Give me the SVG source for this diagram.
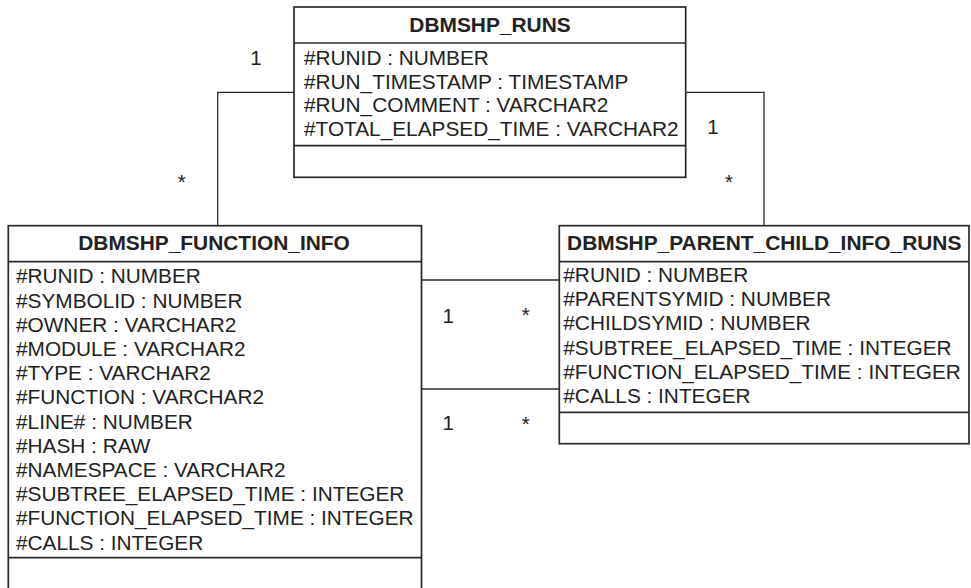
<svg xmlns="http://www.w3.org/2000/svg" width="971" height="588" viewBox="0 0 971 588">
<style>
.box{fill:#fff;stroke:#2a2a2a;stroke-width:1.7}
.div{stroke:#2a2a2a;stroke-width:1.7}
.conn{fill:none;stroke:#2a2a2a;stroke-width:1.3}
text{font-family:"Liberation Sans",Arial,Helvetica,sans-serif;fill:#222;font-size:20.8px}
.title{font-weight:bold;text-anchor:middle;font-size:20.9px}
.lbl{text-anchor:middle;font-size:20.5px}
</style>
<rect width="971" height="588" fill="#fff"/>
<g id="connectors">
<polyline class="conn" points="294,92.3 217.7,92.3 217.7,225.7"/>
<polyline class="conn" points="685.7,92.3 764,92.3 764,225.7"/>
<line class="conn" x1="421.5" y1="280" x2="559.3" y2="280"/>
<line class="conn" x1="421.5" y1="389" x2="559.3" y2="389"/>
<text class="lbl" x="256" y="64.5">1</text>
<text class="lbl" x="181.7" y="189">*</text>
<text class="lbl" x="713" y="134">1</text>
<text class="lbl" x="729" y="189">*</text>
<text class="lbl" x="448.3" y="322.5">1</text>
<text class="lbl" x="525.7" y="322">*</text>
<text class="lbl" x="448.3" y="430">1</text>
<text class="lbl" x="525.7" y="431">*</text>
</g>
<g id="dbmshp_runs">
<rect class="box" x="294" y="7" width="391.7" height="170.3"/>
<line class="div" x1="294" y1="43" x2="685.7" y2="43"/>
<line class="div" x1="294" y1="145.7" x2="685.7" y2="145.7"/>
<text class="title" x="490" y="32">DBMSHP_RUNS</text>
<text x="304" y="65">#RUNID : NUMBER</text>
<text x="304" y="88.7">#RUN_TIMESTAMP : TIMESTAMP</text>
<text x="304" y="112.4">#RUN_COMMENT : VARCHAR2</text>
<text x="304" y="136.1">#TOTAL_ELAPSED_TIME : VARCHAR2</text>
</g>
<g id="dbmshp_function_info">
<rect class="box" x="8.3" y="225.7" width="413.2" height="370"/>
<line class="div" x1="8.3" y1="261.7" x2="421.5" y2="261.7"/>
<line class="div" x1="8.3" y1="557.7" x2="421.5" y2="557.7"/>
<text class="title" x="214" y="250">DBMSHP_FUNCTION_INFO</text>
<text x="16" y="283.3">#RUNID : NUMBER</text>
<text x="16" y="307.5">#SYMBOLID : NUMBER</text>
<text x="16" y="331.7">#OWNER : VARCHAR2</text>
<text x="16" y="355.9">#MODULE : VARCHAR2</text>
<text x="16" y="380.1">#TYPE : VARCHAR2</text>
<text x="16" y="404.3">#FUNCTION : VARCHAR2</text>
<text x="16" y="428.5">#LINE# : NUMBER</text>
<text x="16" y="452.7">#HASH : RAW</text>
<text x="16" y="476.9">#NAMESPACE : VARCHAR2</text>
<text x="16" y="501.1">#SUBTREE_ELAPSED_TIME : INTEGER</text>
<text x="16" y="525.3">#FUNCTION_ELAPSED_TIME : INTEGER</text>
<text x="16" y="549.5">#CALLS : INTEGER</text>
</g>
<g id="dbmshp_parent_child_info_runs">
<rect class="box" x="559.3" y="225.7" width="409.7" height="218"/>
<line class="div" x1="559.3" y1="261.7" x2="969" y2="261.7"/>
<line class="div" x1="559.3" y1="412.3" x2="969" y2="412.3"/>
<text class="title" x="764.2" y="250">DBMSHP_PARENT_CHILD_INFO_RUNS</text>
<text x="563.3" y="281.7">#RUNID : NUMBER</text>
<text x="563.3" y="306">#PARENTSYMID : NUMBER</text>
<text x="563.3" y="330.3">#CHILDSYMID : NUMBER</text>
<text x="563.3" y="354.6">#SUBTREE_ELAPSED_TIME : INTEGER</text>
<text x="563.3" y="378.9">#FUNCTION_ELAPSED_TIME : INTEGER</text>
<text x="563.3" y="403.2">#CALLS : INTEGER</text>
</g>
</svg>
